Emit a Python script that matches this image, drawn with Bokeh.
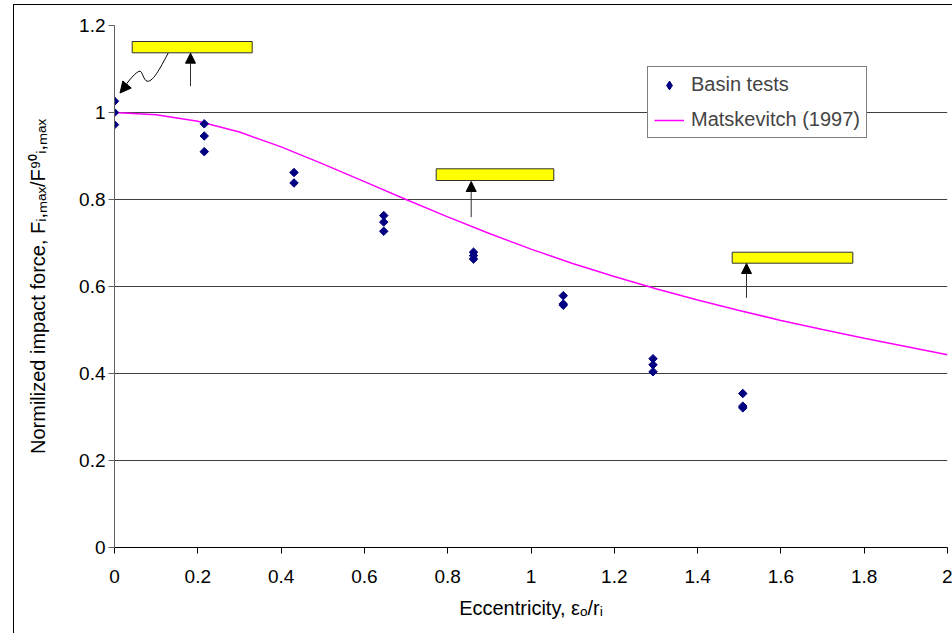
import numpy as np
from bokeh.plotting import figure
from bokeh.models import (Range1d, FixedTicker, NumeralTickFormatter, Legend, LegendItem,
                          Arrow, NormalHead, BoxAnnotation)
from bokeh.embed import file_html
from bokeh.resources import INLINE

# ---------------- data ----------------
test_x = [0.0, 0.0, 0.0,
          0.2155, 0.2155, 0.2155,
          0.431, 0.431,
          0.6465, 0.6465, 0.6465,
          0.862, 0.862, 0.862,
          1.0775, 1.0775, 1.0775,
          1.293, 1.293, 1.293,
          1.5085, 1.5085, 1.5085]
test_y = [1.026, 1.000, 0.972,
          0.974, 0.946, 0.910,
          0.862, 0.838,
          0.763, 0.748, 0.727,
          0.679, 0.671, 0.663,
          0.579, 0.560, 0.557,
          0.434, 0.420, 0.404,
          0.354, 0.325, 0.321]

curve_x = [0.0, 0.1, 0.2, 0.3, 0.4, 0.5, 0.6, 0.7, 0.8, 0.9, 1.0,
           1.1, 1.2, 1.3, 1.4, 1.5, 1.6, 1.7, 1.8, 1.9, 2.0]
curve_y = [1.000, 0.995, 0.980, 0.955, 0.921, 0.882, 0.841, 0.800, 0.760, 0.722, 0.686,
           0.653, 0.623, 0.595, 0.569, 0.545, 0.522, 0.501, 0.481, 0.462, 0.443]

x_ticks = [0, 0.2, 0.4, 0.6, 0.8, 1.0, 1.2, 1.4, 1.6, 1.8, 2.0]
x_tick_labels = ["0", "0.2", "0.4", "0.6", "0.8", "1", "1.2", "1.4", "1.6", "1.8", "2"]
y_ticks = [0, 0.2, 0.4, 0.6, 0.8, 1.0, 1.2]
y_tick_labels = ["0", "0.2", "0.4", "0.6", "0.8", "1", "1.2"]

series_names = ["Basin tests", "Matskevitch (1997)"]
x_title = "Eccentricity, \u03b5\u2092/r\u1d62"
y_title = "Normilized impact force, F\u1d62,\u2098\u2090\u2093/F\u2079\u2070\u1d62,\u2098\u2090\u2093"

# ---------------- layout helpers ----------------
FONT = "Liberation Sans"
FL, FR, FT, FB = 114.0, 947.0, 25.0, 547.0   # frame edges in page pixels


def dx(px):
    return (px - FL) / (FR - FL) * 2.0


def dy(py):
    return (FB - py) / (FB - FT) * 1.2


p = figure(x_range=Range1d(0, 2), y_range=Range1d(0, 1.2),
           frame_width=833, frame_height=522,
           min_border_left=100, min_border_right=5, min_border_top=20, min_border_bottom=86,
           output_backend="svg", toolbar_location=None)
p.margin = (4, 0, 0, 13)
p.styles = {"border-left": "1px solid black", "border-top": "1px solid black"}
p.outline_line_color = None
p.background_fill_color = "white"
p.border_fill_color = "white"

# axes
p.xaxis.ticker = FixedTicker(ticks=x_ticks)
p.yaxis.ticker = FixedTicker(ticks=y_ticks)
p.xaxis.formatter = NumeralTickFormatter(format="0.[0]")
p.yaxis.formatter = NumeralTickFormatter(format="0.[0]")
p.xaxis.major_label_overrides = dict(zip(x_ticks, x_tick_labels))
p.yaxis.major_label_overrides = dict(zip(y_ticks, y_tick_labels))
for ax in (p.xaxis, p.yaxis):
    ax.major_tick_in = 0
    ax.major_tick_out = 6
    ax.minor_tick_line_color = None
    ax.major_label_text_font = FONT
    ax.major_label_text_font_size = "19px"
    ax.major_label_text_color = "black"
    ax.major_tick_line_color = "black"
    ax.axis_label_text_font = FONT
    ax.axis_label_text_font_size = "20px"
    ax.axis_label_text_font_style = "normal"
    ax.axis_label_text_color = "black"
p.xaxis.axis_label = x_title
p.yaxis.axis_label = y_title
p.xaxis.axis_label_standoff = 11
p.yaxis.axis_label_standoff = 27
p.xaxis.axis_line_color = "black"
p.yaxis.axis_line_color = "#606060"
p.yaxis.major_tick_line_color = "#606060"
p.xaxis.major_label_standoff = 16
p.yaxis.major_label_standoff = 3

p.xgrid.visible = False
p.ygrid.ticker = FixedTicker(ticks=y_ticks)
p.ygrid.grid_line_color = "#404040"
p.ygrid.grid_line_width = 1

# series
r_line = p.line(curve_x, curve_y, line_color="#FF00FF", line_width=1.5)
# legend swatch (diamond, since legend swatches ignore marker angle), drawn under the first point
r_key = p.scatter(x=test_x[:1], y=test_y[:1], marker="diamond", size=8.5,
                  fill_color="#000080", line_color="#000080")
r_pts = p.scatter(test_x, test_y, marker="square", angle=np.pi / 4, size=6,
                  fill_color="#000080", line_color="#000080")

legend = Legend(items=[LegendItem(label=series_names[0], renderers=[r_key]),
                       LegendItem(label=series_names[1], renderers=[r_line])],
                location=(533, 409), orientation="vertical",
                label_text_font=FONT, label_text_font_size="20px",
                glyph_width=30, glyph_height=22, label_height=22,
                padding=6, spacing=12, label_standoff=7, margin=0,
                border_line_color="black", border_line_width=1,
                background_fill_color="white", background_fill_alpha=1)
p.add_layout(legend, "center")

# yellow callout boxes (empty text boxes) with arrows
boxes_px = [(131.7, 251.7, 41.0, 52.3), (435.7, 553.3, 168.3, 180.0), (731.7, 852.3, 251.7, 262.7)]
for l, r, t, b in boxes_px:
    p.add_layout(BoxAnnotation(left=dx(l), right=dx(r), top=dy(t), bottom=dy(b),
                               fill_color="#FFFF00", fill_alpha=1.0,
                               line_color="#303030", line_width=1, line_alpha=1.0))

arrows_px = [(190.0, 85.7, 52.7), (470.7, 216.7, 181.0), (746.0, 297.3, 263.0)]
for ax_, y0, y1 in arrows_px:
    p.add_layout(Arrow(end=NormalHead(size=10, fill_color="black", line_color="black", line_width=1),
                       x_start=dx(ax_), y_start=dy(y0), x_end=dx(ax_), y_end=dy(y1),
                       line_color="#303030", line_width=1))

# wavy arrow from the first box to the first data point
segs = [((167.7, 52.5), (162, 63), (153, 82), (146.7, 80.7)),
        ((146.7, 80.7), (143, 80), (142, 71), (139.5, 70.7)),
        ((139.5, 70.7), (136, 70.5), (128, 80), (121, 90.5))]
p.bezier(x0=[dx(s[0][0]) for s in segs], y0=[dy(s[0][1]) for s in segs],
         x1=[dx(s[3][0]) for s in segs], y1=[dy(s[3][1]) for s in segs],
         cx0=[dx(s[1][0]) for s in segs], cy0=[dy(s[1][1]) for s in segs],
         cx1=[dx(s[2][0]) for s in segs], cy1=[dy(s[2][1]) for s in segs],
         line_color="black", line_width=1)
p.add_layout(Arrow(end=NormalHead(size=11, fill_color="black", line_color="black", line_width=1),
                   x_start=dx(127.0), y_start=dy(83.5), x_end=dx(119.5), y_end=dy(92.5),
                   line_color="black", line_width=1))

open("out.html", "w").write(file_html(p, INLINE))
